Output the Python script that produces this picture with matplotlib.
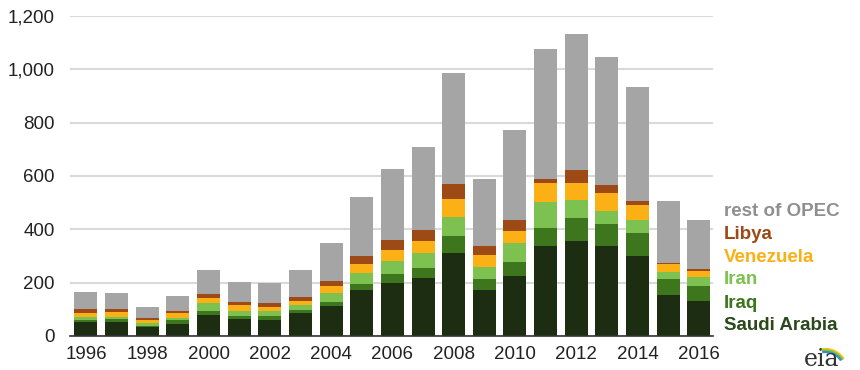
import matplotlib
matplotlib.use('Agg')
import matplotlib.pyplot as plt
import numpy as np
from matplotlib.patches import Arc

# OPEC net oil export revenues, stacked by country
years = np.arange(1996, 2017)
saudi = [54, 54, 32, 45, 79, 62, 60, 85, 112, 172, 200, 216, 310, 172, 226, 337, 355, 337, 299, 155, 132]
iraq = [6, 8, 5, 15, 15, 14, 16, 12, 17, 22, 32, 38, 66, 40, 50, 69, 86, 82, 86, 60, 57]
iran = [10, 8, 10, 9, 28, 18, 18, 19, 31, 43, 50, 56, 70, 48, 71, 98, 68, 50, 51, 26, 31]
venezuela = [17, 21, 13, 16, 22, 22, 16, 16, 29, 33, 40, 45, 68, 44, 45, 71, 66, 68, 56, 28, 24]
libya = [13, 9, 6, 9, 12, 13, 12, 15, 17, 30, 38, 42, 56, 33, 43, 12, 47, 28, 13, 6, 6]
rest = [66, 60, 44, 56, 91, 75, 78, 100, 141, 220, 267, 310, 417, 253, 337, 488, 509, 482, 427, 232, 185]

names = ['Saudi Arabia', 'Iraq', 'Iran', 'Venezuela', 'Libya', 'rest of OPEC']
series = [saudi, iraq, iran, venezuela, libya, rest]
colors = ['#1d2d11', '#3e761e', '#7dc150', '#fbb016', '#9d4a17', '#a5a5a5']
text_colors = ['#2b4a1c', '#3e761e', '#7dc150', '#fbb016', '#9d4a17', '#8f8f8f']

plt.rcParams['font.family'] = 'Liberation Sans'

fig = plt.figure(figsize=(8.6, 3.7), dpi=100)
ax = fig.add_axes([0.0814, 0.092, 0.7476, 0.865])

bottom = np.zeros(len(years))
for vals, c in zip(series, colors):
    ax.bar(years, vals, bottom=bottom, width=0.75, color=c, zorder=3)
    bottom += np.array(vals)

ax.set_xlim(1995.48, 2016.46)
ax.set_ylim(0, 1200)
ax.set_yticks(np.arange(0, 1201, 200))
ax.set_yticklabels([f'{v:,}' for v in range(0, 1201, 200)])
ax.set_xticks(np.arange(1996, 2017, 2))
ax.tick_params(axis='both', length=0, labelsize=13.5, colors='#222222')
ax.tick_params(axis='y', pad=11)
ax.tick_params(axis='x', pad=7)
ax.grid(axis='y', color='#d9d9d9', linewidth=1.5, zorder=0)
for s in ['top', 'right', 'left']:
    ax.spines[s].set_visible(False)
ax.spines['bottom'].set_color('#333333')
ax.spines['bottom'].set_linewidth(1.2)
ax.spines['bottom'].set_zorder(4)

# legend labels stacked at the right
label_y = [325, 303, 280, 257, 235, 212]
for name, c, py in zip(names, text_colors, label_y):
    fig.text(724 / 860, 1 - py / 370, name, color=c, fontsize=13.5,
             fontweight='bold', va='center', ha='left')

# eia logo
fig.text(822 / 860, 1 - 359 / 370, 'eia', fontsize=17, color='#333333',
         ha='center', va='center', family='DejaVu Serif')
lax = fig.add_axes([800 / 860, 1 - 370 / 370, 50 / 860, 30 / 370])
lax.set_xlim(0, 50)
lax.set_ylim(0, 30)
lax.axis('off')
for r, c in zip([19, 17.5, 16], ['#f6c40c', '#7cc142', '#2f8fd1']):
    lax.add_patch(Arc((25, 2), 2 * r + 4, 2 * r, theta1=25, theta2=100, color=c, lw=1.6))

fig.savefig('out.png', dpi=100)
